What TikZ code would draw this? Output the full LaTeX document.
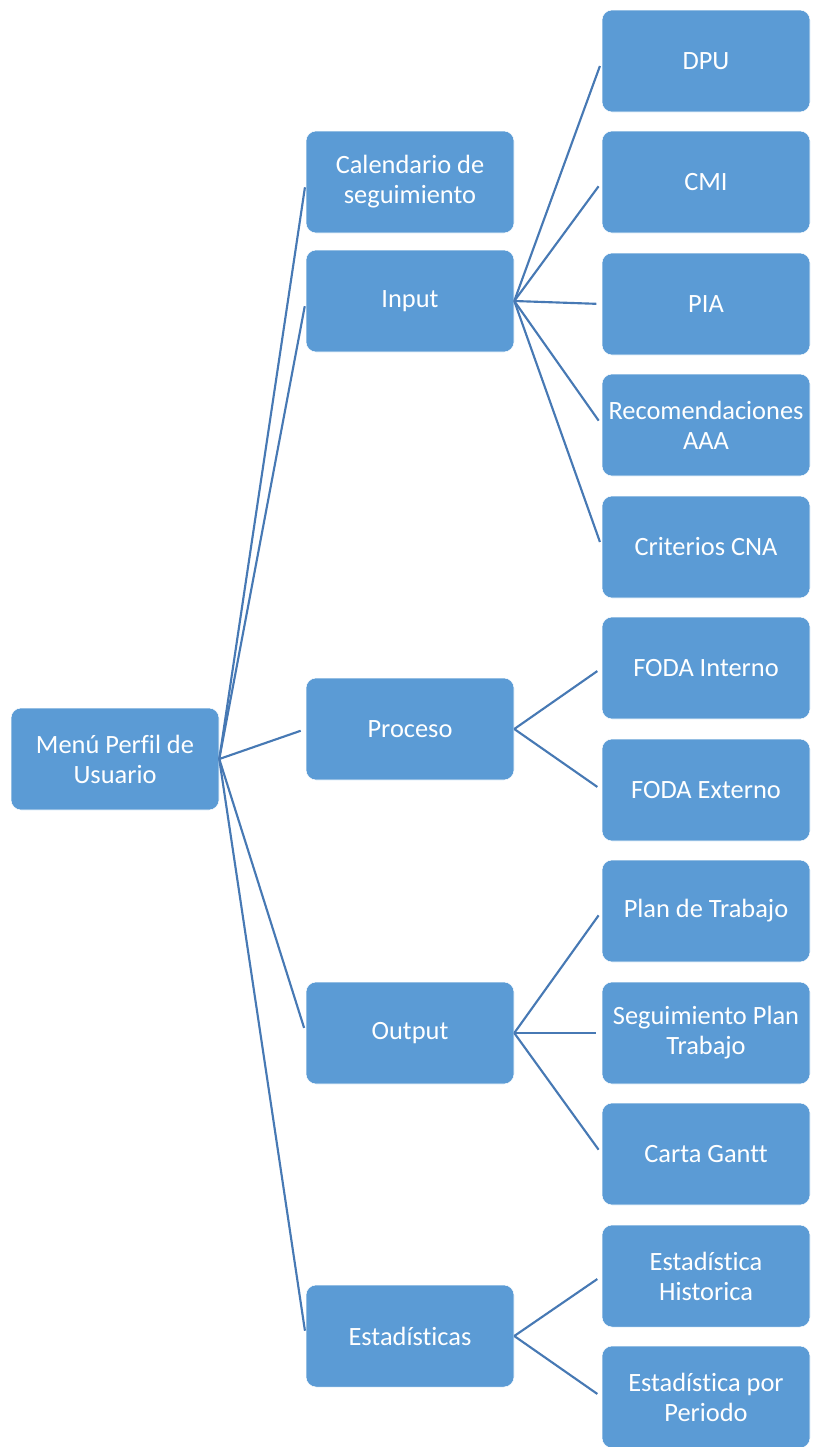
\documentclass[tikz,border=0pt]{standalone}
\usepackage{fontspec}
\setmainfont[Ligatures={NoCommon}]{Carlito}
\usepackage{tikz}
\usetikzlibrary{positioning}
\definecolor{boxfill}{HTML}{5B9BD5}
\definecolor{boxline}{HTML}{FFFFFF}
\definecolor{linkblue}{HTML}{4779B4}
\tikzset{
  menubox/.style={draw=boxline,fill=boxfill,rounded corners=7.5pt,
                  line width=0.4pt,minimum width=156pt,minimum height=76.5pt,
                  inner sep=2pt,align=center,text=white,
                  font=\fontsize{19.8}{22.5}\selectfont},
  link/.style={draw=linkblue,line width=1.6pt,shorten >=4pt},
}

\begin{document}
\begin{tikzpicture}[x=0.75pt,y=-0.75pt]
  \useasboundingbox (0,0) rectangle (813,1447);
  % root
  \node[menubox] (menu) at (115,759) {Menú Perfil de\\Usuario};
  % first level
  \node[menubox] (cal)  at (410,182)  {Calendario de\\seguimiento};
  \node[menubox] (inp)  at (410,301)  {Input};
  \node[menubox] (proc) at (410,729)  {Proceso};
  \node[menubox] (outp) at (410,1033) {Output};
  \node[menubox] (est)  at (410,1336) {Estadísticas};
  % second level
  \node[menubox] (dpu)  at (706,61)   {DPU};
  \node[menubox] (cmi)  at (706,182)  {CMI};
  \node[menubox] (pia)  at (706,304)  {PIA};
  \node[menubox] (reco) at (706,425)  {Recomendaciones\\AAA};
  \node[menubox] (cna)  at (706,547)  {Criterios CNA};
  \node[menubox] (fint) at (706,668)  {FODA Interno};
  \node[menubox] (fext) at (706,790)  {FODA Externo};
  \node[menubox] (plan) at (706,911)  {Plan de Trabajo};
  \node[menubox] (segp) at (706,1033) {Seguimiento Plan\\Trabajo};
  \node[menubox] (gant) at (706,1154) {Carta Gantt};
  \node[menubox] (esth) at (706,1276) {Estadística\\Historica};
  \node[menubox] (estp) at (706,1397) {Estadística por\\Periodo};
  % links
  \draw[link] (menu.east) -- (cal.west);
  \draw[link] (menu.east) -- (inp.west);
  \draw[link] (menu.east) -- (proc.west);
  \draw[link] (menu.east) -- (outp.west);
  \draw[link] (menu.east) -- (est.west);
  \draw[link] (inp.east) -- (dpu.west);
  \draw[link] (inp.east) -- (cmi.west);
  \draw[link] (inp.east) -- (pia.west);
  \draw[link] (inp.east) -- (reco.west);
  \draw[link] (inp.east) -- (cna.west);
  \draw[link] (proc.east) -- (fint.west);
  \draw[link] (proc.east) -- (fext.west);
  \draw[link] (outp.east) -- (plan.west);
  \draw[link] (outp.east) -- (segp.west);
  \draw[link] (outp.east) -- (gant.west);
  \draw[link] (est.east) -- (esth.west);
  \draw[link] (est.east) -- (estp.west);
\end{tikzpicture}
\end{document}
